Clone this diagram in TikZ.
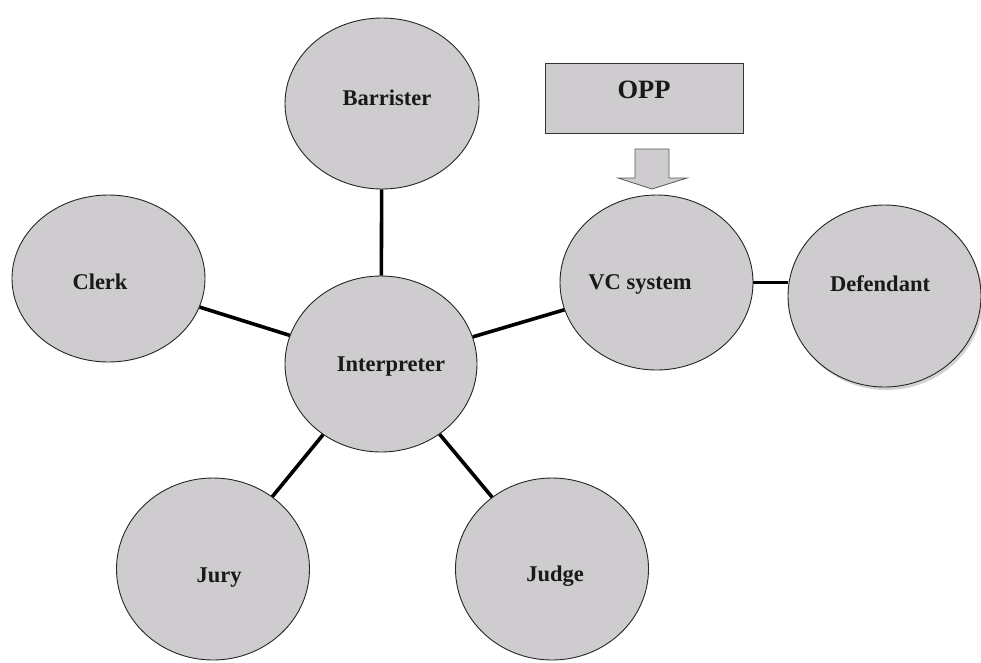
\documentclass[tikz,border=0pt]{standalone}
\usepackage{fontspec}
\setmainfont{Liberation Serif}
\usetikzlibrary{shapes.geometric,shadows}
\definecolor{bubblefill}{RGB}{206,204,206}
\begin{document}
\begin{tikzpicture}[x=1pt,y=-1pt,
  bubble/.style={ellipse,draw=black!85,line width=0.9pt,fill=bubblefill,inner sep=0pt},
  lbl/.style={font=\fontsize{22.5}{26}\selectfont\bfseries,inner sep=0pt,anchor=base,text=black!90},
  link/.style={line width=3.6pt,black}]
\useasboundingbox (0,0) rectangle (981,662);

% bubbles
\node[bubble,minimum width=194pt,minimum height=171pt] (barr) at (382,103.5) {};
\node[bubble,minimum width=193pt,minimum height=167pt] (clerk) at (108.5,278.5) {};
\node[bubble,minimum width=192pt,minimum height=176pt] (interp) at (381,364) {};
\node[bubble,minimum width=193pt,minimum height=175pt] (vc) at (656.5,282.5) {};
\node[bubble,minimum width=193pt,minimum height=182pt,
      drop shadow={shadow xshift=2pt,shadow yshift=-3pt,opacity=0.35}] (def) at (884.5,296) {};
\node[bubble,minimum width=193pt,minimum height=182pt] (jury) at (213,569) {};
\node[bubble,minimum width=193pt,minimum height=182pt] (judge) at (552,569) {};

% labels
\node[lbl] (tbarr) at (387,105) {Barrister};
\node[lbl] (tclerk) at (100,289) {Clerk};
\node[lbl] (tinterp) at (391,371) {Interpreter};
\node[lbl] (tvc) at (640,289) {VC system};
\node[lbl] (tdef) at (880,291) {Defendant};
\node[lbl] (tjury) at (219,582) {Jury};
\node[lbl] (tjudge) at (555,581) {Judge};

% OPP box and block arrow
\node[draw=black!80,line width=1pt,fill=bubblefill,minimum width=198pt,minimum height=70pt,inner sep=0pt] (opp) at (644,98) {};
\node[lbl,font=\fontsize{26.5}{30}\selectfont\bfseries] (topp) at (644,98) {OPP};
\draw[fill=bubblefill,draw=black!65,line width=0.8pt]
  (635,149) -- (669,149) -- (669,178) -- (687,178) -- (652,189) -- (618,178) -- (635,178) -- cycle;

% connectors
\draw[link] (barr) -- (interp);
\draw[link] (clerk) -- (interp);
\draw[link] (interp) -- (vc);
\draw[link,line width=3pt] (vc.east) -- (vc.east -| def.west);
\draw[link] (interp) -- (jury);
\draw[link] (interp) -- (judge);
\end{tikzpicture}
\end{document}
